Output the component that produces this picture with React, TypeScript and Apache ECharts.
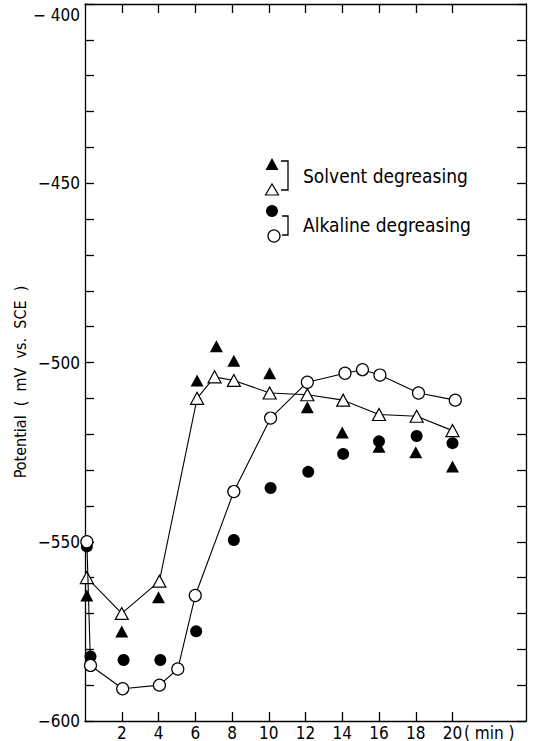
import React, { useEffect, useRef } from "react";
import * as echarts from "echarts";

// Solvent degreasing – open triangles (connected)
const solventOpenT = [0.1, 2.0, 4.05, 6.1, 7.05, 8.1, 10.05, 12.1, 14.05, 16.0, 18.05, 20.0];
const solventOpenV = [-560, -570, -561, -510, -504, -505, -508.5, -509, -510.5, -514.5, -515, -519];

// Solvent degreasing – filled triangles
const solventFilledT = [0.1, 2.0, 4.0, 6.1, 7.15, 8.1, 10.05, 12.1, 14.0, 16.0, 18.0, 20.0];
const solventFilledV = [-565, -575, -565.5, -505, -495.5, -499.5, -503, -512.5, -519.5, -523.5, -525, -529];

// Alkaline degreasing – open circles (connected)
const alkalineOpenT = [0.1, 0.3, 2.05, 4.05, 5.05, 6.0, 8.1, 10.1, 12.1, 14.15, 15.1, 16.05, 18.15, 20.15];
const alkalineOpenV = [-550, -584.5, -591, -590, -585.5, -565, -536, -515.5, -505.5, -503, -502, -503.5, -508.5, -510.5];

// Alkaline degreasing – filled circles
const alkalineFilledT = [0.1, 0.3, 2.1, 4.1, 6.05, 8.1, 10.1, 12.15, 14.05, 16.0, 18.05, 20.0];
const alkalineFilledV = [-551.3, -582, -583, -583, -575, -549.5, -535, -530.5, -525.5, -522, -520.5, -522.5];

const xTicks = [2, 4, 6, 8, 10, 12, 14, 16, 18, 20];
const yLabels = [-450, -500, -550, -600];

const zip = (a: number[], b: number[]) => a.map((v, i) => [v, b[i]]);

const FONT = "DejaVu Sans Condensed";

export default function App() {
  const ref = useRef<HTMLDivElement>(null);
  useEffect(() => {
    if (!ref.current) return;
    const chart = echarts.init(ref.current, undefined, { renderer: "svg" });
    const axisLine = { show: true, onZero: false, lineStyle: { color: "#000", width: 1.3 } };
    const tickStyle = { color: "#000", width: 1.3 };
    const lx = 272;
    const option: any = {
      animation: false,
      backgroundColor: "#fff",
      grid: { left: 85, right: 7, top: 4, bottom: 19, containLabel: false },
      xAxis: [
        {
          type: "value",
          position: "bottom",
          min: 0,
          max: 24,
          interval: 2,
          axisLine,
          splitLine: { show: false },
          axisTick: { show: true, inside: true, length: 9, customValues: xTicks, lineStyle: tickStyle },
          axisLabel: {
            customValues: [...xTicks, 22],
            formatter: (v: number) => (v === 22 ? "( min )" : String(v)),
            color: "#000",
            fontSize: 17,
            fontFamily: FONT,
            margin: 3,
          },
        },
        {
          type: "value",
          position: "top",
          min: 0,
          max: 24,
          interval: 2,
          axisLine,
          splitLine: { show: false },
          axisTick: { show: true, inside: true, length: 9, customValues: xTicks, lineStyle: tickStyle },
          axisLabel: { show: false },
        },
      ],
      yAxis: [
        {
          type: "value",
          position: "left",
          min: -600,
          max: -400,
          interval: 10,
          axisLine,
          splitLine: { show: false },
          axisTick: { show: true, inside: true, length: 9, lineStyle: tickStyle },
          axisLabel: {
            customValues: yLabels,
            formatter: (v: number) => "\u2212" + String(Math.abs(v)),
            color: "#000",
            fontSize: 17,
            fontFamily: FONT,
            margin: 5,
          },
        },
        {
          type: "value",
          position: "right",
          min: -600,
          max: -400,
          interval: 10,
          axisLine,
          splitLine: { show: false },
          axisTick: { show: true, inside: true, length: 9, lineStyle: tickStyle },
          axisLabel: { show: false },
        },
      ],
      series: [
        {
          name: "Solvent degreasing (filled)",
          type: "scatter",
          symbol: "triangle",
          symbolSize: [13, 12],
          itemStyle: { color: "#000", opacity: 1 },
          data: zip(solventFilledT, solventFilledV),
          z: 2,
        },
        {
          name: "Alkaline degreasing (filled)",
          type: "scatter",
          symbol: "circle",
          symbolSize: 12,
          itemStyle: { color: "#000", opacity: 1 },
          data: zip(alkalineFilledT, alkalineFilledV),
          z: 2,
        },
        {
          name: "Solvent degreasing (open)",
          type: "line",
          symbol: "triangle",
          symbolSize: [13, 12],
          showAllSymbol: true,
          lineStyle: { color: "#000", width: 1.1 },
          itemStyle: { color: "#fff", borderColor: "#000", borderWidth: 1.2 },
          data: zip(solventOpenT, solventOpenV),
          z: 3,
        },
        {
          name: "Alkaline degreasing (open)",
          type: "line",
          symbol: "circle",
          symbolSize: 12,
          showAllSymbol: true,
          lineStyle: { color: "#000", width: 1.1 },
          itemStyle: { color: "#fff", borderColor: "#000", borderWidth: 1.2 },
          data: zip(alkalineOpenT, alkalineOpenV),
          z: 4,
        },
      ],
      graphic: [
        {
          type: "text",
          x: 80,
          y: 15,
          style: { text: "\u2212 400", fill: "#000", font: `17px "${FONT}"`, align: "right", verticalAlign: "middle" },
        },
        {
          type: "text",
          x: 20,
          y: 382,
          rotation: Math.PI / 2,
          style: {
            text: "Potential  (  mV  vs.  SCE  )",
            fill: "#000",
            font: `16px "${FONT}"`,
            align: "center",
            verticalAlign: "middle",
          },
        },
        // Legend: solvent
        { type: "polygon", shape: { points: [[lx, 158], [lx - 6.5, 170], [lx + 6.5, 170]] }, style: { fill: "#000" } },
        { type: "polygon", shape: { points: [[lx, 184], [lx - 6.5, 195], [lx + 6.5, 195]] }, style: { fill: "#fff", stroke: "#000", lineWidth: 1.2 } },
        { type: "polyline", shape: { points: [[281, 161], [288, 161], [288, 190], [281, 190]] }, style: { stroke: "#000", lineWidth: 1.3, fill: "none" } },
        {
          type: "text",
          x: 303,
          y: 176,
          style: { text: "Solvent degreasing", fill: "#000", font: `19px "${FONT}"`, verticalAlign: "middle" },
        },
        // Legend: alkaline
        { type: "circle", shape: { cx: lx, cy: 211, r: 6 }, style: { fill: "#000" } },
        { type: "circle", shape: { cx: lx + 2, cy: 236, r: 6 }, style: { fill: "#fff", stroke: "#000", lineWidth: 1.2 } },
        { type: "polyline", shape: { points: [[282, 216], [288, 216], [288, 235], [282, 235]] }, style: { stroke: "#000", lineWidth: 1.3, fill: "none" } },
        {
          type: "text",
          x: 303,
          y: 225,
          style: { text: "Alkaline degreasing", fill: "#000", font: `19px "${FONT}"`, verticalAlign: "middle" },
        },
      ],
    };
    chart.setOption(option);
    return () => chart.dispose();
  }, []);
  return <div ref={ref} style={{ position: "fixed", left: 0, top: 0, width: 533, height: 741 }} />;
}
